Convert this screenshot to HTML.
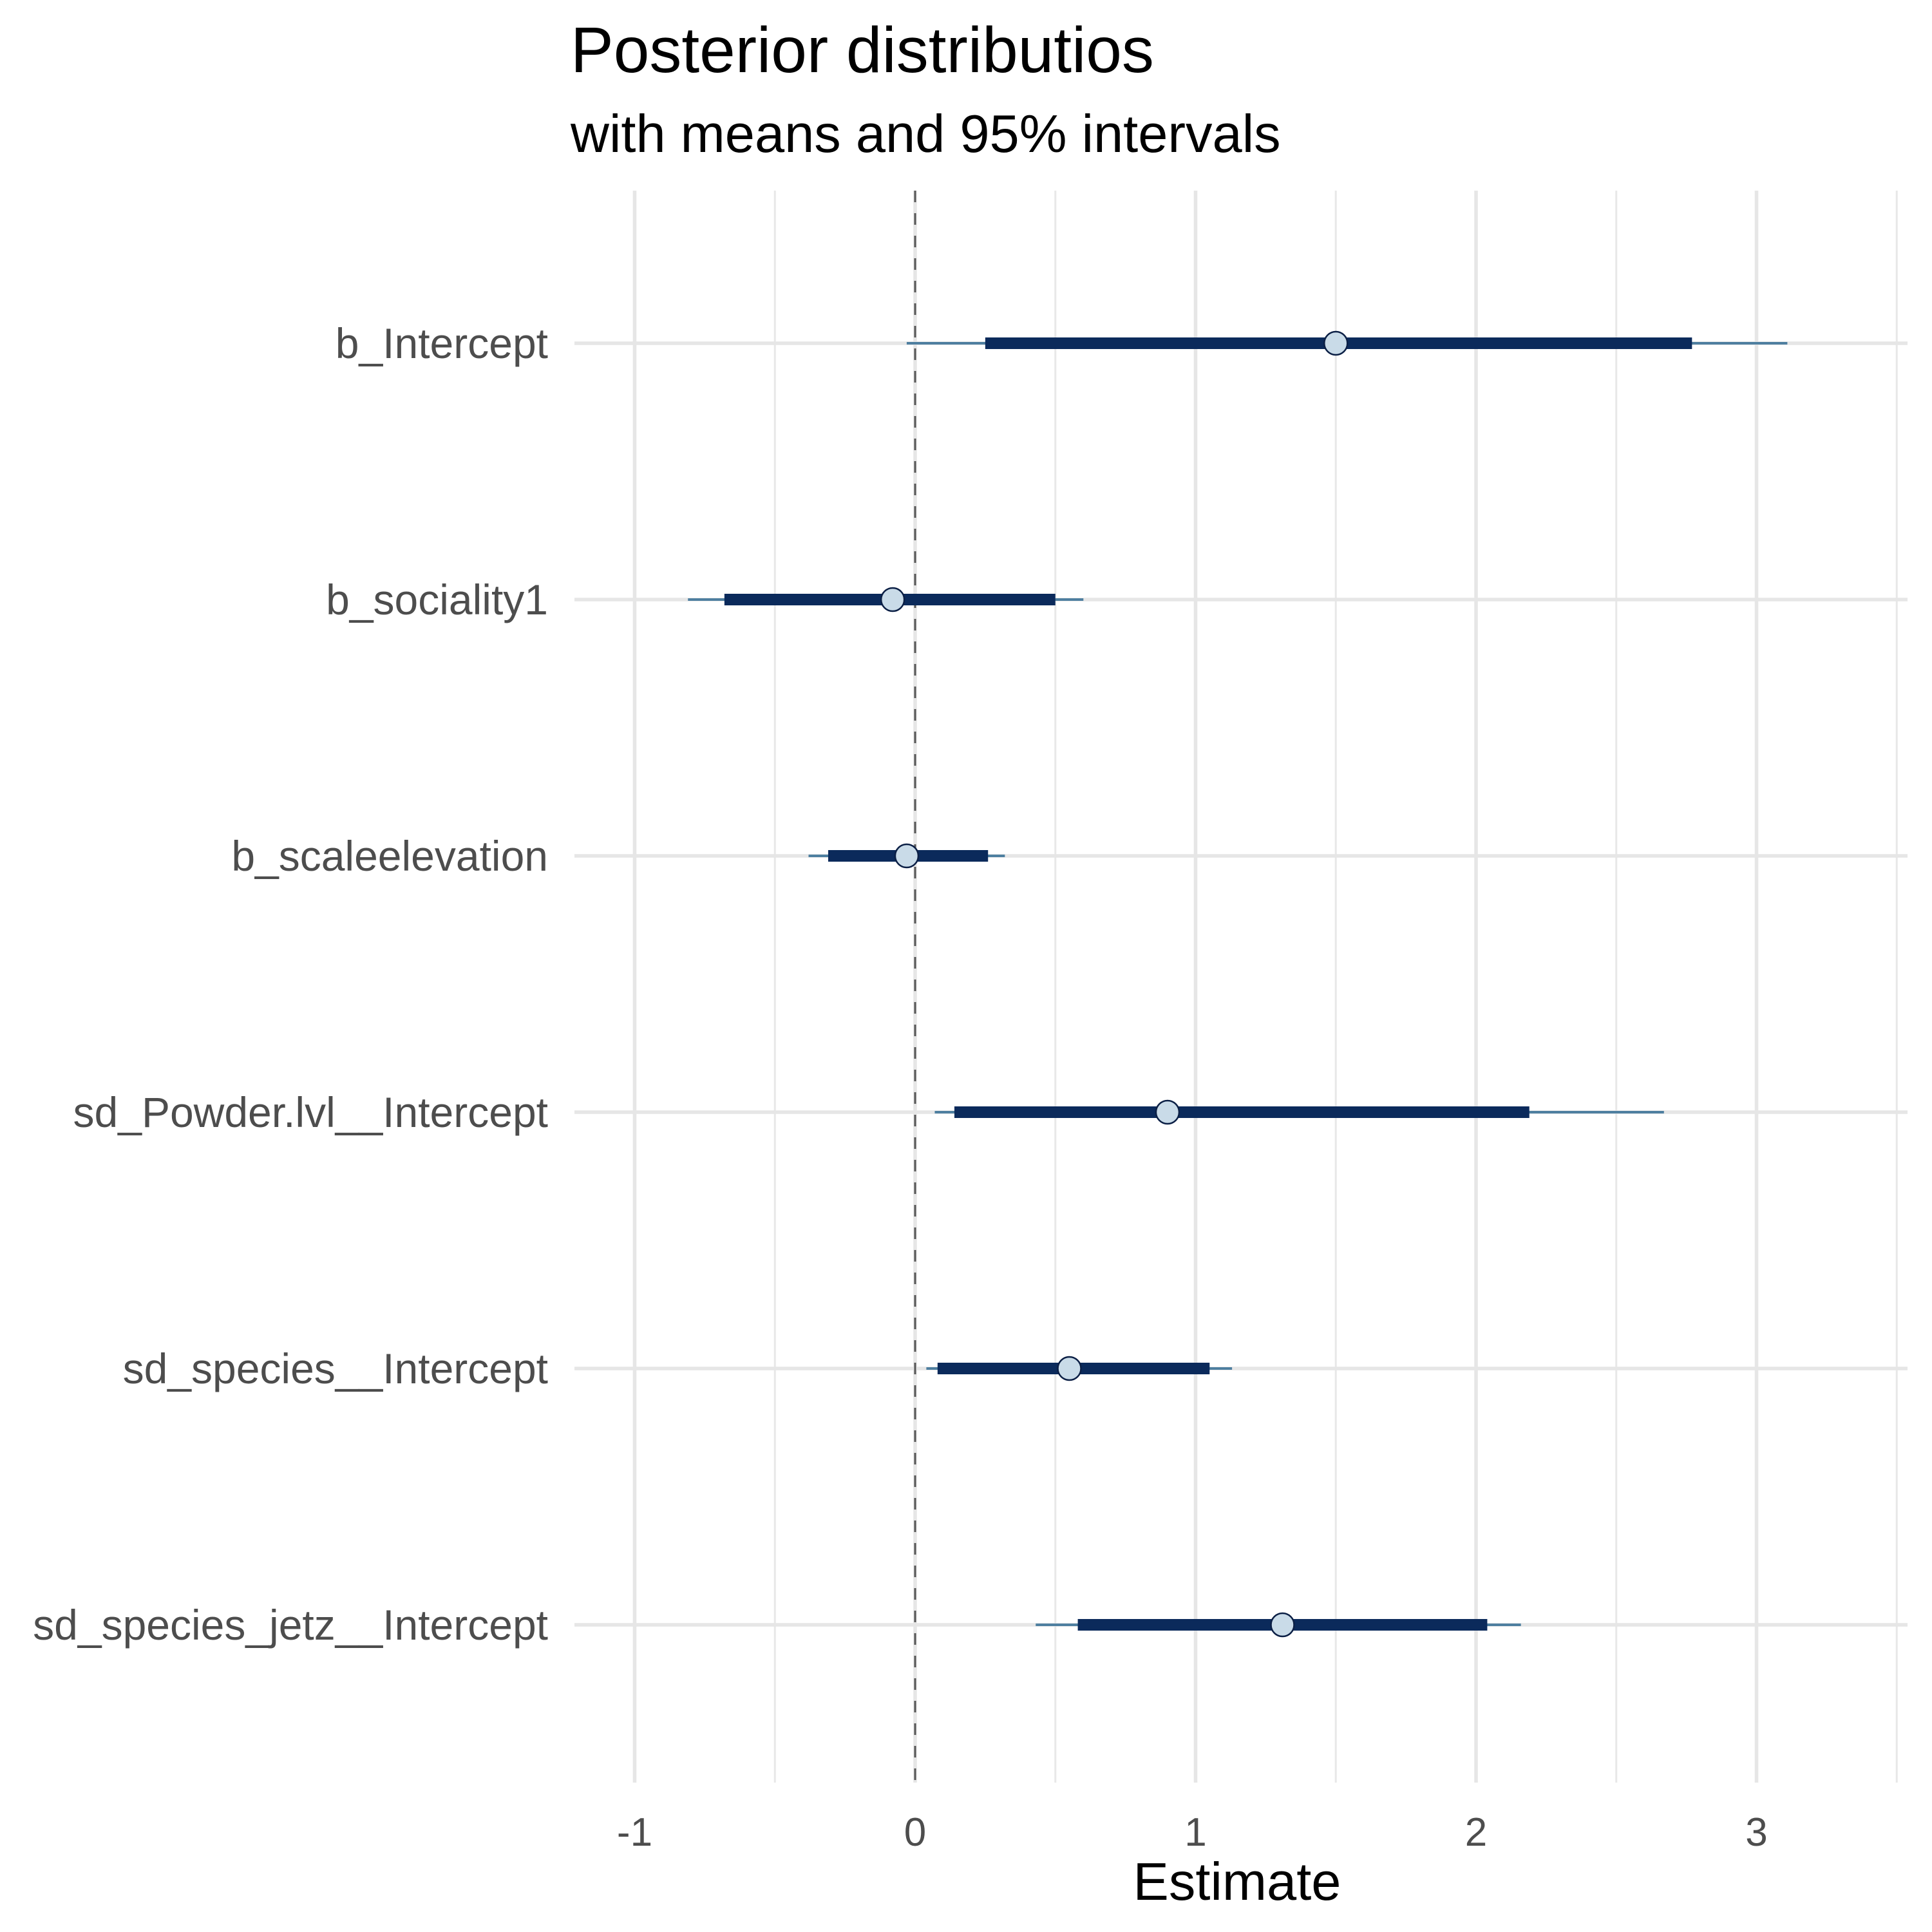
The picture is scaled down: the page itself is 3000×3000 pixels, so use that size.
<!DOCTYPE html>
<html><head><meta charset="utf-8"><style>
html,body{margin:0;padding:0;background:#fff;}
svg{display:block;font-family:"Liberation Sans",Arial,sans-serif;}
</style></head><body>
<svg id="chart" width="3000" height="3000" viewBox="0 0 3000 3000">
<text x="886" y="112" font-size="100" fill="#000">Posterior distributios</text>
<text x="886" y="236" font-size="83" fill="#000">with means and 95% intervals</text>
<g id="grid"></g><g id="marks"></g><g id="labels"></g>
<text x="1921" y="2950" font-size="83" text-anchor="middle" fill="#000">Estimate</text>
</svg>
<script>
const params = ["b_Intercept","b_sociality1","b_scaleelevation","sd_Powder.lvl__Intercept","sd_species__Intercept","sd_species_jetz__Intercept"];
const means = [1.5,-0.08,-0.03,0.9,0.55,1.31];
const innerLo = [0.25,-0.68,-0.31,0.14,0.08,0.58];
const innerHi = [2.77,0.5,0.26,2.19,1.05,2.04];
const outerLo = [-0.03,-0.81,-0.38,0.07,0.04,0.43];
const outerHi = [3.11,0.6,0.32,2.67,1.13,2.16];
const majorTicks = [-1,0,1,2,3];
const tickLabels = ["-1","0","1","2","3"];
const minorTicks = [-0.5,0.5,1.5,2.5,3.5];

const NS="http://www.w3.org/2000/svg";
const X0=1421, UNIT=435.5;
const xs=v=>X0+v*UNIT;
const ys=i=>533+i*398;
const top_=296, bot=2768, left=892, right=2962;
function mk(tag,attrs,parent){const e=document.createElementNS(NS,tag);for(const k in attrs)e.setAttribute(k,attrs[k]);parent.appendChild(e);return e;}
const grid=document.getElementById('grid'), marks=document.getElementById('marks'), labels=document.getElementById('labels');

minorTicks.forEach(v=>{
  const l=mk('line',{x1:xs(v),x2:xs(v),y1:top_,y2:bot,stroke:'#e8e8e8','stroke-width':3},grid);
  
  
});
majorTicks.forEach((v,i)=>{
  const l=mk('line',{x1:xs(v),x2:xs(v),y1:top_,y2:bot,stroke:'#e6e6e6','stroke-width':5.5},grid);
  
  
  const t=mk('text',{x:xs(v),y:2866,'font-size':62,'text-anchor':'middle',fill:'#4d4d4d'},labels);
  t.textContent=tickLabels[i];
  
  
});
params.forEach((p,i)=>{
  const l=mk('line',{x1:left,x2:right,y1:ys(i),y2:ys(i),stroke:'#e6e6e6','stroke-width':5.5},grid);
  
  
  const t=mk('text',{x:851,y:ys(i)+23,'font-size':66,'text-anchor':'end',fill:'#4d4d4d'},labels);
  t.textContent=p;
  
  
});
const z=mk('line',{x1:xs(0),x2:xs(0),y1:top_,y2:bot,stroke:'#555','stroke-width':3,'stroke-dasharray':'18 17'},grid);


params.forEach((p,i)=>{
  const o=mk('line',{x1:xs(outerLo[i]),x2:xs(outerHi[i]),y1:ys(i),y2:ys(i),stroke:'#4e7fa0','stroke-width':4},marks);
  
  
  const n=mk('line',{x1:xs(innerLo[i]),x2:xs(innerHi[i]),y1:ys(i),y2:ys(i),stroke:'#0b2a5b','stroke-width':18},marks);
  
  
  const c=mk('circle',{cx:xs(means[i]),cy:ys(i),r:18,fill:'#c9dbe8',stroke:'#0b1f45','stroke-width':2.5},marks);
  
  
});
</script>
</body></html>
